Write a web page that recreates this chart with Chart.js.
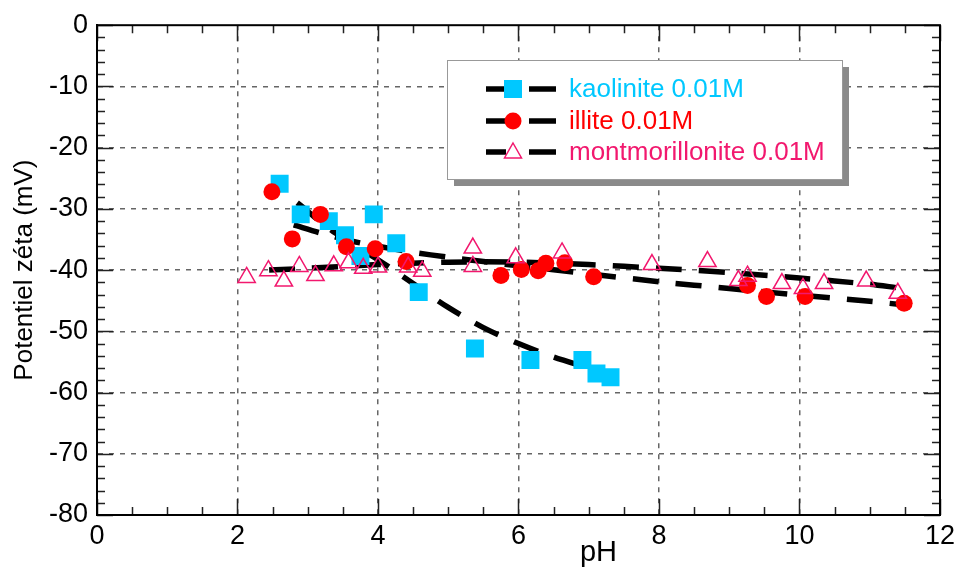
<!DOCTYPE html>
<html><head><meta charset="utf-8">
<script src="https://cdn.jsdelivr.net/npm/chart.js@4/dist/chart.umd.min.js"></script>
<style>html,body{margin:0;padding:0;background:#fff;}#wrap{width:960px;height:569px;}</style>
</head><body><div id="wrap"><canvas id="c" width="960" height="569"></canvas></div>
<script>
// ---- data ----
const kaoliniteX = [2.6, 2.9, 3.3, 3.53, 3.75, 3.94, 4.26, 4.58, 5.38, 6.17, 6.91, 7.11, 7.31];
const kaoliniteY = [-25.9, -30.9, -32.0, -34.3, -37.7, -30.9, -35.6, -43.6, -52.8, -54.7, -54.7, -56.9, -57.5];

const illiteX = [2.49, 2.78, 3.18, 3.55, 3.96, 4.40, 5.75, 6.04, 6.28, 6.39, 6.66, 7.07, 9.26, 9.53, 10.08, 11.49];
const illiteY = [-27.2, -34.9, -30.9, -36.2, -36.5, -38.6, -40.9, -39.9, -40.1, -38.9, -38.8, -41.1, -42.5, -44.3, -44.3, -45.4];

const montX = [2.13, 2.44, 2.66, 2.88, 3.11, 3.37, 3.58, 3.79, 4.0, 4.43, 4.63, 5.35, 5.35, 5.96, 6.62, 7.90, 8.69, 9.13, 9.26, 9.75, 10.05, 10.35, 10.95, 11.4];
const montY = [-41.2, -40.1, -41.8, -39.4, -40.9, -39.3, -38.8, -39.7, -39.5, -39.5, -40.2, -36.4, -39.4, -38.0, -37.2, -39.1, -38.6, -41.7, -41.0, -42.2, -43.0, -42.2, -41.8, -43.8];

// dashed trend curves
const kaoFitX = [2.85, 3.4, 4.0, 4.5, 5.0, 5.5, 6.0, 6.5, 7.0];
const kaoFitY = [-29.0, -34.0, -38.3, -42.2, -46.1, -49.4, -52.0, -54.2, -56.0];
const illFitX = [2.8, 3.2, 3.6, 4.0, 4.5, 5.0, 5.5, 6.0, 7.0, 8.0, 9.0, 10.0, 11.0, 11.5];
const illFitY = [-32.6, -34.0, -35.2, -36.1, -37.1, -37.9, -38.6, -39.3, -40.6, -41.9, -43.0, -44.1, -45.1, -45.7];
const montFitX = [2.45, 3.0, 4.0, 5.0, 6.0, 7.0, 8.0, 9.0, 10.0, 11.0, 11.4];
const montFitY = [-40.0, -39.7, -39.1, -38.7, -38.7, -39.1, -39.7, -40.4, -41.3, -42.3, -42.9];

const seriesNames = ['kaolinite 0.01M', 'illite 0.01M', 'montmorillonite 0.01M'];
const xTickValues = [0, 2, 4, 6, 8, 10, 12];
const yTickValues = [0, -10, -20, -30, -40, -50, -60, -70, -80];
const xTitle = 'pH';
const yTitle = 'Potentiel zéta (mV)';

// ---- styles ----
const FONT = "'Liberation Sans', Arial, Helvetica, sans-serif";
const C_KAO = 'rgb(0,200,255)';
const C_ILL = '#ff0000';
const C_MON = '#f2186e';
const pts = (xs, ys) => xs.map((x, i) => ({x: x, y: ys[i]}));
const fitStyle = {type: 'line', showLine: true, borderColor: '#000', borderWidth: 5.5,
  borderDash: [26, 17], borderCapStyle: 'butt', pointRadius: 0, tension: 0.3, fill: false, order: 10};

const xMin = 0, xMax = 12, yMin = -80, yMax = 0;

const framePlugin = {
  id: 'frame',
  afterDraw(chart) {
    const {ctx, chartArea: a, scales: {x, y}} = chart;
    ctx.save();
    ctx.strokeStyle = '#222'; ctx.lineWidth = 1.5;
    ctx.beginPath();
    for (let i = 0; i <= (xMax - xMin) / 0.5; i++) {
      const v = xMin + i * 0.5;
      const px = Math.round(x.getPixelForValue(v)) + 0.5;
      const len = (i % 4 === 0) ? 16 : 8;
      ctx.moveTo(px, a.bottom); ctx.lineTo(px, a.bottom - len);
      ctx.moveTo(px, a.top); ctx.lineTo(px, a.top + len);
    }
    for (let i = 0; i <= (yMax - yMin) / 2; i++) {
      const v = yMin + i * 2;
      const py = Math.round(y.getPixelForValue(v)) + 0.5;
      const len = (i % 5 === 0) ? 16 : 8;
      ctx.moveTo(a.left, py); ctx.lineTo(a.left + len, py);
      ctx.moveTo(a.right, py); ctx.lineTo(a.right - len, py);
    }
    ctx.stroke();
    ctx.lineWidth = 2; ctx.strokeStyle = '#000';
    ctx.strokeRect(a.left, a.top, a.right - a.left, a.bottom - a.top);

    // x axis title
    ctx.fillStyle = '#000';
    ctx.font = '29px ' + FONT;
    ctx.textAlign = 'center'; ctx.textBaseline = 'middle';
    ctx.fillText(xTitle, (a.left + a.right) / 2 + 80, 553);

    // legend box
    const bx = 447, by = 60, bw = 395, bh = 119;
    ctx.fillStyle = '#8a8a8a';
    ctx.fillRect(bx + 7, by + 7, bw, bh);
    ctx.fillStyle = '#fff';
    ctx.fillRect(bx, by, bw, bh);
    ctx.lineWidth = 1; ctx.strokeStyle = '#999';
    ctx.strokeRect(bx + 0.5, by + 0.5, bw, bh);
    const rows = [89, 121, 152];
    const colors = [C_KAO, C_ILL, C_MON];
    rows.forEach((ry, i) => {
      ctx.strokeStyle = '#000'; ctx.lineWidth = 5.5; ctx.lineCap = 'butt';
      ctx.beginPath();
      ctx.moveTo(486, ry); ctx.lineTo(506, ry);
      ctx.moveTo(529, ry); ctx.lineTo(556, ry);
      ctx.stroke();
      const mx = 513;
      if (i === 0) { ctx.fillStyle = C_KAO; ctx.fillRect(mx - 9, ry - 9, 18, 18); }
      else if (i === 1) { ctx.fillStyle = C_ILL; ctx.beginPath(); ctx.arc(mx, ry, 8.5, 0, Math.PI * 2); ctx.fill(); }
      else {
        ctx.strokeStyle = C_MON; ctx.lineWidth = 1.5; ctx.beginPath();
        ctx.moveTo(mx, ry - 9); ctx.lineTo(mx + 8.5, ry + 6); ctx.lineTo(mx - 8.5, ry + 6); ctx.closePath(); ctx.stroke();
      }
      ctx.fillStyle = colors[i];
      ctx.font = '26px ' + FONT;
      ctx.textAlign = 'left'; ctx.textBaseline = 'middle';
      ctx.fillText(seriesNames[i], 569, ry + 1);
    });
    ctx.restore();
  }
};

new Chart(document.getElementById('c'), {
  type: 'scatter',
  data: {
    datasets: [
      {label: seriesNames[2], data: pts(montX, montY), pointStyle: 'triangle', pointRadius: 10,
        pointBackgroundColor: 'rgba(0,0,0,0)', pointBorderColor: C_MON, pointBorderWidth: 1.5, order: 1},
      {label: seriesNames[1], data: pts(illiteX, illiteY), pointStyle: 'circle', pointRadius: 8.5,
        pointBackgroundColor: C_ILL, pointBorderColor: C_ILL, pointBorderWidth: 0, order: 2},
      {label: seriesNames[0], data: pts(kaoliniteX, kaoliniteY), pointStyle: 'rect', pointRadius: 12.7,
        pointBackgroundColor: C_KAO, pointBorderColor: C_KAO, pointBorderWidth: 0, order: 3},
      Object.assign({label: 'fit kaolinite', data: pts(kaoFitX, kaoFitY)}, fitStyle),
      Object.assign({label: 'fit illite', data: pts(illFitX, illFitY)}, fitStyle),
      Object.assign({label: 'fit montmorillonite', data: pts(montFitX, montFitY)}, fitStyle)
    ]
  },
  options: {
    responsive: false, animation: false, devicePixelRatio: 1,
    layout: {padding: {top: 21, right: 18, left: 0, bottom: 0}},
    plugins: {legend: {display: false}, tooltip: {enabled: false}},
    scales: {
      x: {
        type: 'linear', min: xMin, max: xMax,
        afterFit: s => { s.height = 54; },
        afterBuildTicks: s => { s.ticks = xTickValues.map(v => ({value: v})); },
        ticks: {color: '#000', font: {family: FONT, size: 27}, padding: 5, maxRotation: 0},
        grid: {drawTicks: false, lineWidth: 1.5,
          color: c => (c.tick && (c.tick.value === xMin || c.tick.value === xMax)) ? 'rgba(0,0,0,0)' : '#666'},
        border: {display: true, color: '#000', width: 2, dash: [5, 6]}
      },
      y: {
        type: 'linear', min: yMin, max: yMax,
        afterFit: s => { s.width = 97; },
        afterBuildTicks: s => { s.ticks = yTickValues.map(v => ({value: v})); },
        ticks: {color: '#000', font: {family: FONT, size: 27}, padding: 9},
        grid: {drawTicks: false, lineWidth: 1.5,
          color: c => (c.tick && (c.tick.value === yMin || c.tick.value === yMax)) ? 'rgba(0,0,0,0)' : '#666'},
        border: {display: true, color: '#000', width: 2, dash: [5, 6]},
        title: {display: true, text: yTitle, color: '#000', font: {family: FONT, size: 26}, padding: {top: 9, bottom: 0}}
      }
    }
  },
  plugins: [framePlugin]
});
</script></body></html>
